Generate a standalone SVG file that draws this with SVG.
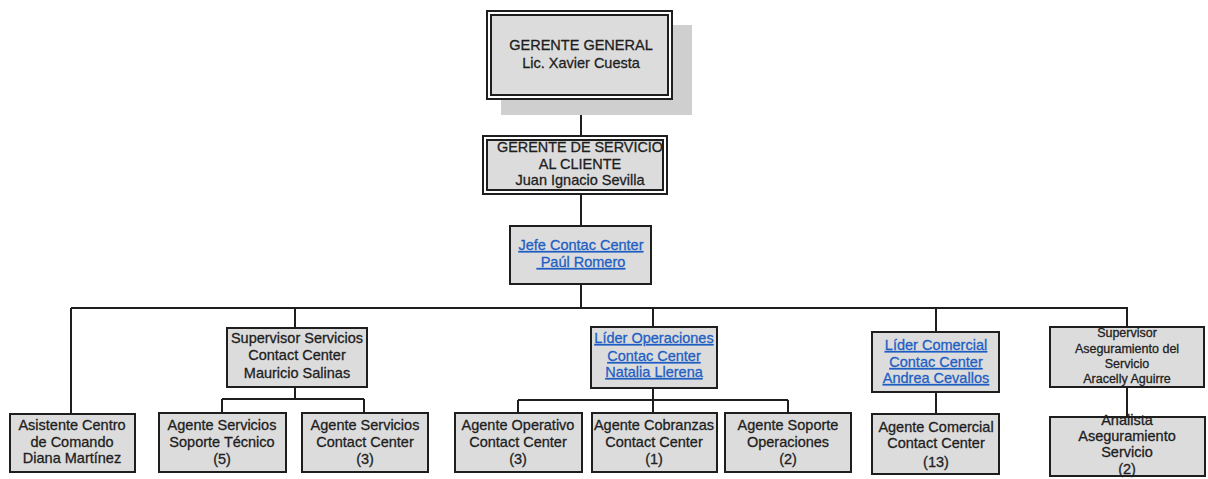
<svg xmlns="http://www.w3.org/2000/svg" width="1208" height="479" viewBox="0 0 1208 479">
<style>
.bg{fill:#ffffff}
.box{fill:#dcdcdc;stroke:#1e1e1e;stroke-width:2}
.outer{fill:#ffffff;stroke:#1e1e1e;stroke-width:2}
.shadow{fill:#cfcfcf}
.t{font-family:"Liberation Sans",Arial,sans-serif;font-size:14.5px;fill:#1e1e1e;stroke:#1e1e1e;stroke-width:0.3;text-anchor:middle}
.s{font-size:12.5px}
.lk{fill:#1f5fc4;stroke:#1f5fc4;text-decoration:underline}
.c{stroke:#1e1e1e;stroke-width:2;fill:none}
</style>
<rect class="bg" x="0" y="0" width="1208" height="479"/>
<g id="connectors">
<path class="c" d="M581 100V135M581 195V225M581 285V308M71 308H1128M71 308V413M295 308V327M653 308V327M936 308V332M1127 308V327"/>
<path class="c" d="M295 387V399M222 399H364M222 399V413M364 399V412"/>
<path class="c" d="M653 388V412M518 400H788M518 400V412M788 400V412"/>
<path class="c" d="M936 392V414M1127 387V417"/>
</g>
<g id="gerente-general">
<rect class="shadow" x="501" y="25" width="191" height="90"/>
<rect class="outer" x="487" y="11" width="185" height="88"/>
<rect class="box" x="491" y="15" width="177" height="80"/>
<text class="t" x="581" y="50">GERENTE GENERAL</text>
<text class="t" x="581" y="68">Lic. Xavier Cuesta</text>
</g>
<g id="gerente-servicio">
<rect class="outer" x="483" y="136" width="184" height="58"/>
<rect class="box" x="487" y="140" width="176" height="50"/>
<text class="t" x="580" y="152" textLength="166" lengthAdjust="spacingAndGlyphs">GERENTE DE SERVICIO</text>
<text class="t" x="580" y="168.5">AL CLIENTE</text>
<text class="t" x="580" y="185">Juan Ignacio Sevilla</text>
</g>
<g id="jefe-contact">
<rect class="box" x="510" y="226" width="141" height="58"/>
<text class="t lk" x="581" y="250">Jefe Contac Center</text>
<text class="t lk" x="581" y="267">&#160;Paúl Romero</text>
</g>
<g id="asistente">
<rect class="box" x="10" y="414" width="125" height="58"/>
<text class="t" x="72" y="430">Asistente Centro</text>
<text class="t" x="72" y="447">de Comando</text>
<text class="t" x="72" y="463">Diana Martínez</text>
</g>
<g id="supervisor-servicios">
<rect class="box" x="227" y="328" width="140" height="59"/>
<text class="t" x="297" y="343">Supervisor Servicios</text>
<text class="t" x="297" y="360">Contact Center</text>
<text class="t" x="297" y="378">Mauricio Salinas</text>
</g>
<g id="agente-soporte-tecnico">
<rect class="box" x="159" y="413" width="127" height="59"/>
<text class="t" x="222" y="430">Agente Servicios</text>
<text class="t" x="222" y="447">Soporte Técnico</text>
<text class="t" x="222" y="464">(5)</text>
</g>
<g id="agente-servicios-cc">
<rect class="box" x="302" y="413" width="126" height="59"/>
<text class="t" x="365" y="430">Agente Servicios</text>
<text class="t" x="365" y="447">Contact Center</text>
<text class="t" x="365" y="464">(3)</text>
</g>
<g id="lider-operaciones">
<rect class="box" x="591" y="327" width="126" height="61"/>
<text class="t lk" x="654" y="343">Líder Operaciones</text>
<text class="t lk" x="654" y="361">Contac Center</text>
<text class="t lk" x="654" y="377">Natalia Llerena</text>
</g>
<g id="agente-operativo">
<rect class="box" x="455" y="413" width="127" height="59"/>
<text class="t" x="518" y="430">Agente Operativo</text>
<text class="t" x="518" y="447">Contact Center</text>
<text class="t" x="518" y="464">(3)</text>
</g>
<g id="agente-cobranzas">
<rect class="box" x="592" y="413" width="125" height="59"/>
<text class="t" x="654" y="430">Agente Cobranzas</text>
<text class="t" x="654" y="447">Contact Center</text>
<text class="t" x="654" y="464">(1)</text>
</g>
<g id="agente-soporte-operaciones">
<rect class="box" x="725" y="413" width="126" height="59"/>
<text class="t" x="788" y="430">Agente Soporte</text>
<text class="t" x="788" y="447">Operaciones</text>
<text class="t" x="788" y="464">(2)</text>
</g>
<g id="lider-comercial">
<rect class="box" x="872" y="332" width="127" height="60"/>
<text class="t lk" x="936" y="350">Líder Comercial</text>
<text class="t lk" x="936" y="367">Contac Center</text>
<text class="t lk" x="936" y="383">Andrea Cevallos</text>
</g>
<g id="agente-comercial">
<rect class="box" x="872" y="414" width="127" height="60"/>
<text class="t" x="936" y="432">Agente Comercial</text>
<text class="t" x="936" y="448">Contact Center</text>
<text class="t" x="936" y="467">(13)</text>
</g>
<g id="supervisor-aseguramiento">
<rect class="box" x="1050" y="327" width="154" height="60"/>
<text class="t s" x="1127" y="337">Supervisor</text>
<text class="t s" x="1127" y="353">Aseguramiento del</text>
<text class="t s" x="1127" y="368">Servicio</text>
<text class="t s" x="1127" y="383">Aracelly Aguirre</text>
</g>
<g id="analista-aseguramiento">
<rect class="box" x="1050" y="417" width="155" height="59"/>
<text class="t" x="1127" y="425">Analista</text>
<text class="t" x="1127" y="441">Aseguramiento</text>
<text class="t" x="1127" y="457">Servicio</text>
<text class="t" x="1127" y="474">(2)</text>
</g>
</svg>
